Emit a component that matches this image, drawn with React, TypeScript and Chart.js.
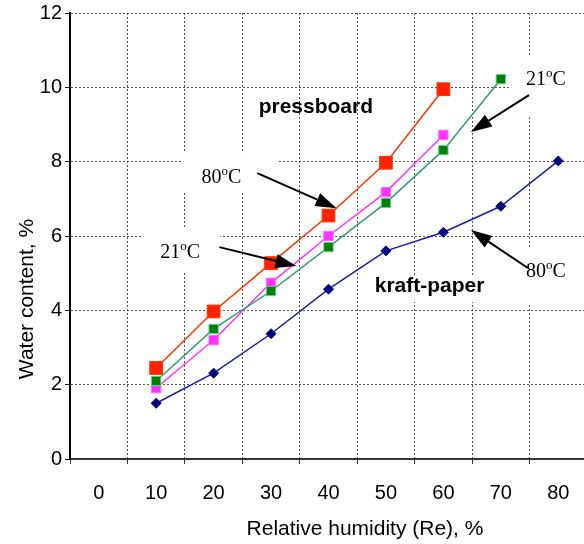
import React, { useEffect, useRef } from 'react';
import { Chart, registerables } from 'chart.js';

Chart.register(...registerables);

// ---- data ----
const categories = ['0', '10', '20', '30', '40', '50', '60', '70', '80'];
const pressboard80 = [null, 2.45, 3.97, 5.27, 6.55, 7.97, 9.95, null, null];
const pressboard21 = [null, 1.91, 3.2, 4.74, 6.0, 7.18, 8.72, null, null];
const kraft21 = [null, 2.1, 3.5, 4.52, 5.7, 6.89, 8.31, 10.22, null];
const kraft80 = [null, 1.5, 2.31, 3.37, 4.57, 5.6, 6.1, 6.8, 8.02];
const yMin = 0;
const yMax = 12;
const yStep = 2;
const xTitle = 'Relative humidity (Re), %';
const yTitle = 'Water content, %';

// annotation texts (data coordinates: category index, value)
const boldLabels = [
  { text: 'pressboard', x: 3.78, y: 9.31 },
  { text: 'kraft-paper', x: 5.76, y: 4.49 },
];
const tempLabels = [
  { num: '80', x: 2.134, y: 7.43 },
  { num: '21', x: 1.419, y: 5.41 },
  { num: '21', x: 7.785, y: 10.06 },
  { num: '80', x: 7.785, y: 4.9 },
];
const whiteBoxes = [
  [1.454, 8.23, 3.128, 7.16],
  [0.773, 6.21, 2.116, 5.03],
  [7.14, 10.82, 8.7, 9.25],
  [7.175, 5.7, 8.7, 4.2],
  [4.73, 4.95, 6.79, 4.22],
];
const arrows = [
  [2.76, 7.69, 4.14, 6.75],
  [2.1, 5.7, 3.44, 5.19],
  [7.49, 9.79, 6.48, 8.8],
  [7.47, 5.14, 6.48, 6.16],
];

const SANS = "'Liberation Sans', Arial, sans-serif";
const SERIF = "'Liberation Serif', 'Times New Roman', serif";

const annotPlugin = {
  id: 'annot',
  beforeDatasetsDraw(chart: any) {
    const { ctx, scales } = chart;
    const xs = scales.x;
    const ys = scales.y;
    ctx.save();
    ctx.fillStyle = '#ffffff';
    whiteBoxes.forEach(([x1, y1, x2, y2]) => {
      const px1 = xs.getPixelForValue(x1);
      const px2 = xs.getPixelForValue(x2);
      const py1 = ys.getPixelForValue(y1);
      const py2 = ys.getPixelForValue(y2);
      ctx.fillRect(px1, py1, px2 - px1, py2 - py1);
    });
    ctx.restore();
  },
  afterDatasetsDraw(chart: any) {
    const { ctx, scales } = chart;
    const xs = scales.x;
    const ys = scales.y;
    ctx.save();
    ctx.fillStyle = '#000';
    ctx.textBaseline = 'alphabetic';
    ctx.textAlign = 'center';
    ctx.font = `bold 21px ${SANS}`;
    boldLabels.forEach((l) => {
      ctx.fillText(l.text, xs.getPixelForValue(l.x), ys.getPixelForValue(l.y));
    });
    ctx.textAlign = 'left';
    tempLabels.forEach((l) => {
      const cx = xs.getPixelForValue(l.x);
      const by = ys.getPixelForValue(l.y);
      ctx.font = `20px ${SERIF}`;
      const wNum = ctx.measureText(l.num).width;
      const wC = ctx.measureText('C').width;
      ctx.font = `13px ${SERIF}`;
      const wO = ctx.measureText('o').width;
      const total = wNum + wO + wC;
      let x = cx - total / 2;
      ctx.font = `20px ${SERIF}`;
      ctx.fillText(l.num, x, by);
      x += wNum;
      ctx.font = `13px ${SERIF}`;
      ctx.fillText('o', x, by - 8);
      x += wO;
      ctx.font = `20px ${SERIF}`;
      ctx.fillText('C', x, by);
    });
    arrows.forEach(([x1, y1, x2, y2]) => {
      const px1 = xs.getPixelForValue(x1);
      const py1 = ys.getPixelForValue(y1);
      const px2 = xs.getPixelForValue(x2);
      const py2 = ys.getPixelForValue(y2);
      const ang = Math.atan2(py2 - py1, px2 - px1);
      const headLen = 21;
      const headHalf = 7;
      const bx = px2 - headLen * Math.cos(ang);
      const by = py2 - headLen * Math.sin(ang);
      ctx.strokeStyle = '#000';
      ctx.lineWidth = 2;
      ctx.beginPath();
      ctx.moveTo(px1, py1);
      ctx.lineTo(bx, by);
      ctx.stroke();
      ctx.beginPath();
      ctx.moveTo(px2, py2);
      ctx.lineTo(bx + headHalf * Math.sin(ang), by - headHalf * Math.cos(ang));
      ctx.lineTo(bx - headHalf * Math.sin(ang), by + headHalf * Math.cos(ang));
      ctx.closePath();
      ctx.fillStyle = '#000';
      ctx.fill();
    });
    ctx.restore();
  },
  afterDraw(chart: any) {
    const { ctx } = chart;
    ctx.save();
    ctx.fillStyle = '#000';
    ctx.font = `21px ${SANS}`;
    ctx.textAlign = 'center';
    ctx.textBaseline = 'alphabetic';
    ctx.fillText(xTitle, 365, 535);
    ctx.translate(33, 299);
    ctx.rotate(-Math.PI / 2);
    ctx.fillText(yTitle, 0, 0);
    ctx.restore();
  },
};

export default function App() {
  const ref = useRef<HTMLCanvasElement>(null);
  useEffect(() => {
    const chart = new Chart(ref.current as HTMLCanvasElement, {
      type: 'line',
      data: {
        labels: categories,
        datasets: [
          {
            label: 'kraft-paper 80°C',
            data: kraft80,
            borderColor: '#1A1FA0',
            borderWidth: 1.5,
            pointStyle: 'rectRot',
            pointRadius: 5,
            pointBackgroundColor: '#000080',
            pointBorderColor: '#000080',
            pointBorderWidth: 1,
          },
          {
            label: 'kraft-paper 21°C',
            data: kraft21,
            borderColor: '#339977',
            borderWidth: 1.5,
            pointStyle: 'rect',
            pointRadius: 6.6,
            pointBackgroundColor: '#008000',
            pointBorderColor: '#66CC99',
            pointBorderWidth: 1,
          },
          {
            label: 'pressboard 21°C',
            data: pressboard21,
            borderColor: '#FF33FF',
            borderWidth: 1.5,
            pointStyle: 'rect',
            pointRadius: 6.6,
            pointBackgroundColor: '#FF33FF',
            pointBorderColor: '#FF66FF',
            pointBorderWidth: 1,
          },
          {
            label: 'pressboard 80°C',
            data: pressboard80,
            borderColor: '#FF3300',
            borderWidth: 1.5,
            pointStyle: 'rect',
            pointRadius: 9,
            pointBackgroundColor: '#FF2200',
            pointBorderColor: '#FF3300',
            pointBorderWidth: 1,
          },
        ],
      },
      options: {
        responsive: false,
        animation: false,
        layout: { padding: { top: 13, right: 2, left: 0, bottom: 0 } },
        plugins: {
          legend: { display: false },
          tooltip: { enabled: false },
        },
        scales: {
          x: {
            type: 'category',
            offset: true,
            grid: {
              offset: true,
              color: '#555',
              lineWidth: 1,
              tickLength: 5,
              tickColor: '#333',
            },
            border: { display: true, color: '#333', width: 2, dash: [2, 2] },
            ticks: {
              font: { family: SANS, size: 20 },
              color: '#000',
              padding: 17,
              maxRotation: 0,
              autoSkip: false,
            },
            afterFit: (s: any) => {
              s.height = 85;
              s.paddingLeft = 0;
              s.paddingRight = 0;
            },
          },
          y: {
            min: yMin,
            max: yMax,
            ticks: {
              stepSize: yStep,
              font: { family: SANS, size: 20 },
              color: '#000',
              padding: 3,
            },
            grid: {
              color: '#555',
              lineWidth: 1,
              tickLength: 5,
              tickColor: '#000',
            },
            border: { display: true, color: '#000', width: 2, dash: [2, 2] },
            afterFit: (s: any) => {
              s.width = 70;
              s.paddingTop = 0;
              s.paddingBottom = 0;
            },
          },
        },
      },
      plugins: [annotPlugin],
    });
    return () => chart.destroy();
  }, []);

  return (
    <div
      style={{
        position: 'fixed',
        left: 0,
        top: 0,
        width: 584,
        height: 544,
        overflow: 'hidden',
        background: '#fff',
      }}
    >
      <canvas ref={ref} width={597} height={544} style={{ display: 'block' }} />
    </div>
  );
}
